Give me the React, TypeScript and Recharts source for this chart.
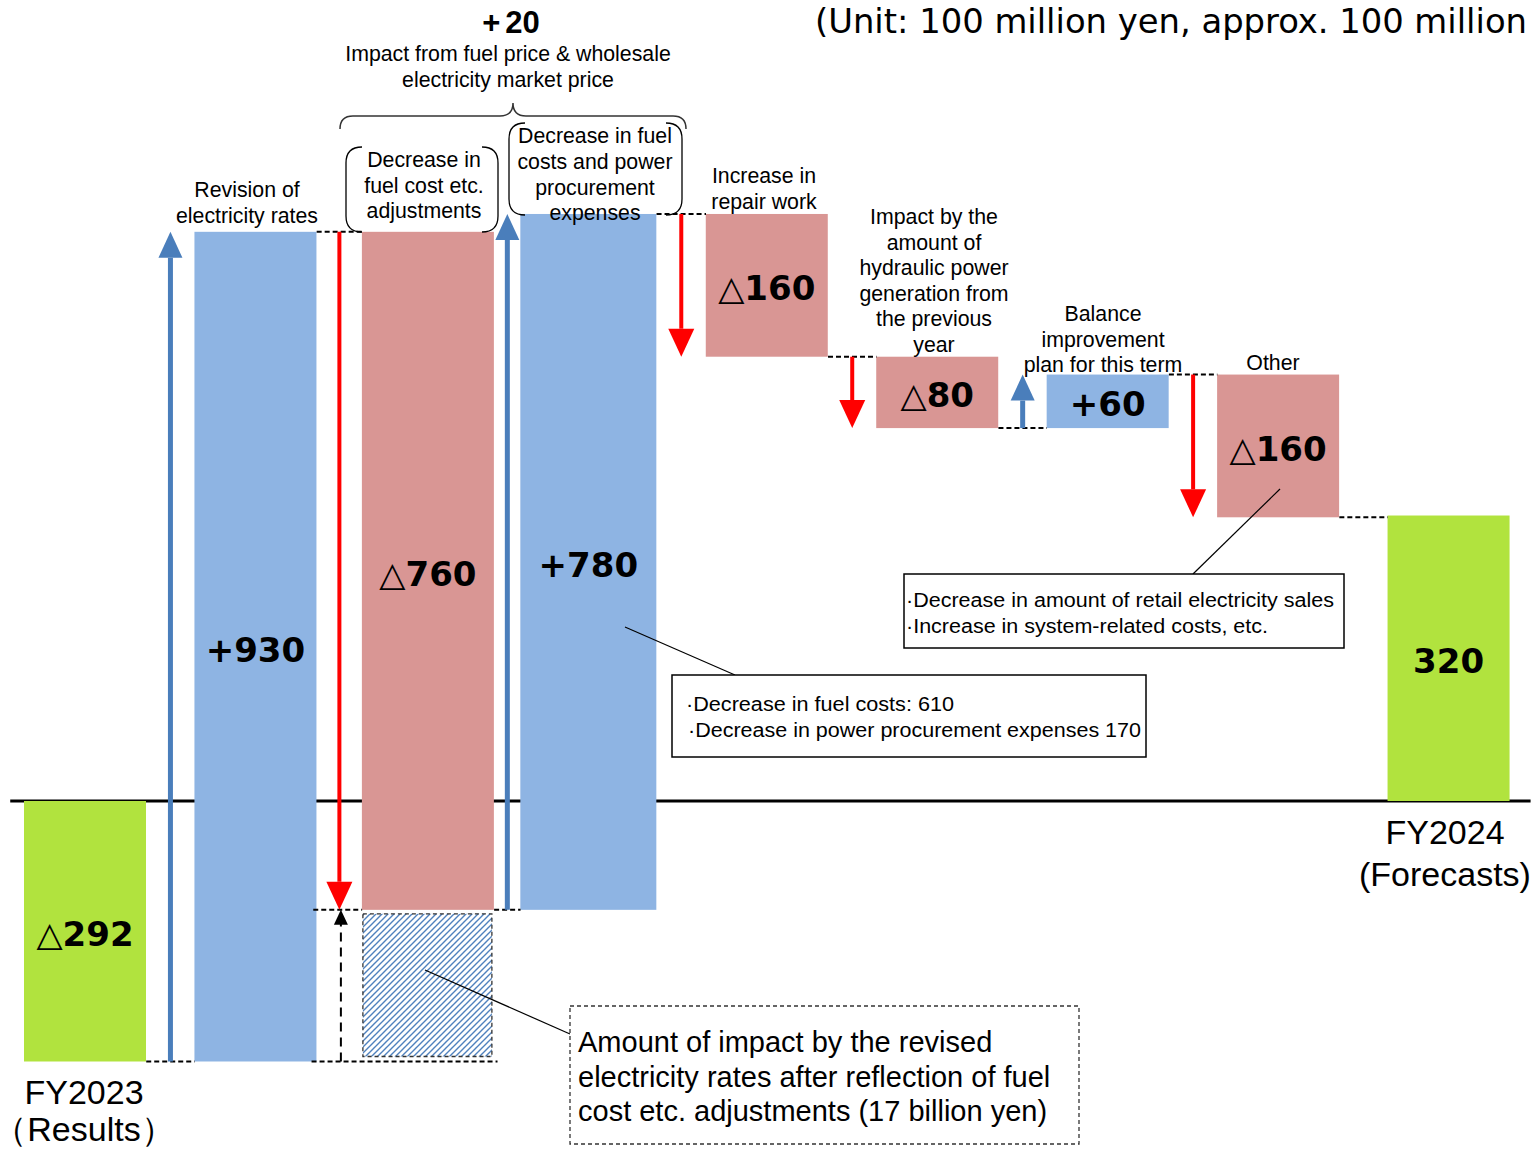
import React from 'react';
import { ComposedChart, Bar, XAxis, YAxis, Cell, LabelList, ReferenceLine } from 'recharts';

// values in 100 million yen
const categories = [
  'FY2023',
  'Revision of electricity rates',
  'Decrease in fuel cost etc. adjustments',
  'Decrease in fuel costs and power procurement expenses',
  'Increase in repair work',
  'Impact by the amount of hydraulic power generation from the previous year',
  'Balance improvement plan for this term',
  'Other',
  'FY2024',
];
const startValue = -292;
const changes = [930, -760, 780, -160, -80, 60, -160];
const endValue = 320;
const barLabels = ['△292', '+930', '△760', '+780', '△160', '△80', '+60', '△160', '320'];
const revisedRateImpact = 170; // 17 billion yen
const fuelPriceImpact = 20;

const categoryLines = [
  ['FY2023', '（Results）'],
  ['Revision of', 'electricity rates'],
  ['Decrease in', 'fuel cost etc.', 'adjustments'],
  ['Decrease in fuel', 'costs and power', 'procurement', 'expenses'],
  ['Increase in', 'repair work'],
  ['Impact by the', 'amount of', 'hydraulic power', 'generation from', 'the previous', 'year'],
  ['Balance', 'improvement', 'plan for this term'],
  ['Other'],
  ['FY2024', '(Forecasts)'],
];
const fuelImpactLines = ['Impact from fuel price & wholesale', 'electricity market price'];
const otherNotes = ['·Decrease in amount of retail electricity sales', '·Increase in system-related costs, etc.'];
const fuelNotes = ['·Decrease in fuel costs: 610', '·Decrease in power procurement expenses 170'];
const hatchNote = ['Amount of impact by the revised', 'electricity rates after reflection of fuel', 'cost etc. adjustments (17 billion yen)'];
const unitText = '(Unit: 100 million yen, approx. 100 million';

const GREEN = '#b1e33e';
const PINK = '#d99694';
const BLUE = '#8eb4e3';
const ARROW_BLUE = '#4a7ebb';
const RED = '#ff0000';
const SANS = '"Liberation Sans", Arial, sans-serif';

const W = 1536;
const H = 1149;
const margin = { top: 7, right: 2, bottom: 9, left: 0 };
const barSize = 122;
const band = (W - margin.left - margin.right) / categories.length;
const half = barSize / 2 / band;
const yDomain = [-380, 890];
// the two fuel bars are drawn a little wider than the rest: [extra px left, extra px right]
const widen: Record<number, [number, number]> = { 2: [3, 7], 3: [15, -1] };

const leftEdge = (i: number) => i + 0.5 - half - (widen[i]?.[0] ?? 0) / band;
const rightEdge = (i: number) => i + 0.5 + half + (widen[i]?.[1] ?? 0) / band;

const levels: number[] = [startValue];
changes.forEach((c) => levels.push(levels[levels.length - 1] + c));

const data = categories.map((name, i) => {
  let lo: number;
  let hi: number;
  if (i === 0) [lo, hi] = [startValue, 0];
  else if (i === categories.length - 1) [lo, hi] = [0, endValue];
  else [lo, hi] = [levels[i - 1], levels[i]];
  return {
    name,
    pos: i + 0.5,
    range: [Math.min(lo, hi), Math.max(lo, hi)],
    hatch: i === 2 ? [startValue, startValue + revisedRateImpact] : null,
    label: barLabels[i],
  };
});

const fills = categories.map((_, i) =>
  i === 0 || i === categories.length - 1 ? GREEN : changes[i - 1] > 0 ? BLUE : PINK
);

const arrowShape = (color: string, sw: number, headW: number, headL: number) => (p: any) => {
  const { x1, y1, x2, y2 } = p;
  const dir = y2 > y1 ? 1 : -1;
  const baseY = y2 - dir * headL;
  return (
    <g>
      <line x1={x1} y1={y1} x2={x2} y2={baseY} stroke={color} strokeWidth={sw} />
      <polygon points={`${x2 - headW / 2},${baseY} ${x2 + headW / 2},${baseY} ${x2},${y2}`} fill={color} />
    </g>
  );
};

const barShape = (p: any) => {
  const { x, y, width, height, fill, index } = p;
  const [l, r] = widen[index] ?? [0, 0];
  return <rect x={x - l} y={y} width={width + l + r} height={height} fill={fill} />;
};

const renderBarLabel = (p: any) => {
  const { x, y, width, height, value, index } = p;
  const [l, r] = widen[index] ?? [0, 0];
  const s = String(value);
  const tri = s.startsWith('△');
  return (
    <text
      x={x - l + (width + l + r) / 2}
      y={y + height / 2 + 15}
      textAnchor="middle"
      fontFamily='"DejaVu Sans", Verdana, sans-serif'
      fontSize={34}
      fill="#000"
    >
      {tri && <tspan fontWeight="normal">△</tspan>}
      <tspan fontWeight="bold">{tri ? s.slice(1) : s}</tspan>
    </text>
  );
};

const hatchShape = (p: any) => {
  const { x, y, width, height } = p;
  if (!height) return <g />;
  const [l, r] = widen[2];
  return (
    <rect
      x={x - l + 1}
      y={y + 4}
      width={width + l + r - 3}
      height={height - 9}
      fill="url(#hatchFill)"
      stroke="#333"
      strokeWidth={1.3}
      strokeDasharray="4 3"
    />
  );
};

const TextLines = ({ x, y, lines, size = 21.3, lh = 25.5, anchor = 'middle', family = SANS, weight = 'normal' }: any) => (
  <text x={x} y={y} fontSize={size} fontFamily={family} fontWeight={weight} textAnchor={anchor} fill="#000">
    {lines.map((l: string, i: number) => (
      <tspan key={i} x={x} y={y + i * lh}>
        {l}
      </tspan>
    ))}
  </text>
);

// anchor of each category caption: [center x, first baseline, font size, line height]
const captionPos: [number, number, number, number][] = [
  [84, 1104, 34, 37],
  [247, 197, 21.3, 25.5],
  [424, 167, 21.3, 25.5],
  [595, 143, 21.3, 25.8],
  [764, 183, 21.3, 25.5],
  [934, 224, 21.3, 25.6],
  [1103, 321, 21.3, 25.5],
  [1273, 370, 21.3, 25.5],
  [1445, 844, 34, 42],
];

const Axes = () => (
  <>
    <XAxis xAxisId="cat" dataKey="name" hide />
    <XAxis xAxisId="hatch" dataKey="name" hide />
    <XAxis
      xAxisId="num"
      dataKey="pos"
      type="number"
      scale="linear"
      domain={[0, categories.length]}
      hide
      allowDataOverflow
    />
    <YAxis hide domain={yDomain} allowDataOverflow />
  </>
);

export default function App() {
  const dash = { stroke: '#000', strokeWidth: 2, strokeDasharray: '5 3' };

  // horizontal connectors between neighbouring bars
  const connectors = categories.slice(0, -1).map((_, i) => {
    const level = i === 0 ? startValue : levels[i];
    return { x1: rightEdge(i), x2: leftEdge(i + 1), y: level };
  });
  const hatchTop = startValue + revisedRateImpact;

  return (
    <div style={{ position: 'absolute', left: 0, top: 0, width: W, height: H, background: '#fff' }}>
      {/* zero line sits behind the bars */}
      <div style={{ position: 'absolute', left: 0, top: 0 }}>
        <ComposedChart width={W} height={H} data={data} margin={margin}>
          {Axes()}
          <ReferenceLine
            xAxisId="num"
            segment={[{ x: 0.06, y: 0 }, { x: 8.98, y: 0 }]}
            stroke="#000"
            strokeWidth={3}
            ifOverflow="visible"
          />
        </ComposedChart>
      </div>

      <div style={{ position: 'absolute', left: 0, top: 0 }}>
        <ComposedChart width={W} height={H} data={data} margin={margin} barCategoryGap={0}>
          {Axes()}

          <Bar xAxisId="cat" dataKey="range" barSize={barSize} isAnimationActive={false} shape={barShape}>
            {data.map((d, i) => (
              <Cell key={d.name} fill={fills[i]} />
            ))}
            <LabelList dataKey="label" content={renderBarLabel} />
          </Bar>
          <Bar xAxisId="hatch" dataKey="hatch" barSize={barSize} isAnimationActive={false} shape={hatchShape} />

          {connectors.map((c, i) => (
            <ReferenceLine
              key={`c${i}`}
              xAxisId="num"
              segment={[{ x: c.x1, y: c.y }, { x: c.x2, y: c.y }]}
              {...dash}
              ifOverflow="visible"
            />
          ))}
          <ReferenceLine
            xAxisId="num"
            segment={[{ x: rightEdge(1) - 0.03, y: startValue }, { x: rightEdge(2) + 0.02, y: startValue }]}
            {...dash}
            ifOverflow="visible"
          />
          <ReferenceLine
            xAxisId="num"
            segment={[{ x: rightEdge(1) - 0.02, y: hatchTop }, { x: leftEdge(2), y: hatchTop }]}
            {...dash}
            ifOverflow="visible"
          />
          <ReferenceLine
            xAxisId="num"
            segment={[{ x: 2, y: startValue }, { x: 2, y: hatchTop }]}
            ifOverflow="visible"
            shape={(p: any) => (
              <g>
                <line x1={p.x1} y1={p.y1} x2={p.x2} y2={p.y2 + 14} stroke="#000" strokeWidth={2} strokeDasharray="9 6" />
                <polygon points={`${p.x2 - 7},${p.y2 + 15} ${p.x2 + 7},${p.y2 + 15} ${p.x2},${p.y2}`} fill="#000" />
              </g>
            )}
          />

          {changes.map((c, k) => {
            const i = k + 1;
            const up = c > 0;
            // arrow runs down the gap just left of its bar
            const ax = (rightEdge(i - 1) + leftEdge(i)) / 2;
            return (
              <ReferenceLine
                key={`a${i}`}
                xAxisId="num"
                segment={[{ x: ax, y: levels[i - 1] }, { x: ax, y: levels[i] }]}
                ifOverflow="visible"
                shape={up ? arrowShape(ARROW_BLUE, 5, 24, 26) : arrowShape(RED, 4, 26, 28)}
              />
            );
          })}
        </ComposedChart>
      </div>

      <svg width={W} height={H} style={{ position: 'absolute', left: 0, top: 0, pointerEvents: 'none' }}>
        <defs>
          <pattern id="hatchFill" patternUnits="userSpaceOnUse" width={6} height={6}>
            <rect width={6} height={6} fill="#fff" />
            <path d="M0,6 L6,0 M-1.5,1.5 L1.5,-1.5 M4.5,7.5 L7.5,4.5" stroke="#4f81bd" strokeWidth={1.4} />
          </pattern>
        </defs>

        <text x={815} y={33} fontSize={34} fontFamily='"DejaVu Sans Condensed", "DejaVu Sans", sans-serif' textLength={712} lengthAdjust="spacingAndGlyphs">
          {unitText}
        </text>

        <text x={511} y={33} textAnchor="middle" fontSize={31} fontWeight="bold" fontFamily={SANS}>
          <tspan>+</tspan>
          <tspan dx={5}>{fuelPriceImpact}</tspan>
        </text>
        <TextLines x={508} y={61} lines={fuelImpactLines} lh={26} />
        <path
          d="M340,129 Q340,116 353,116 L500,116 Q513,116 513,103 Q513,116 526,116 L673,116 Q686,116 686,129"
          fill="none"
          stroke="#333"
          strokeWidth={1.5}
        />
        <path d="M362,147 Q346,147 346,163 L346,216 Q346,232 362,232 M482,147 Q498,147 498,163 L498,216 Q498,232 482,232" fill="none" stroke="#000" strokeWidth={1.3} />
        <path d="M525,123 Q509,123 509,139 L509,199 Q509,215 525,215 M666,123 Q682,123 682,139 L682,199 Q682,215 666,215" fill="none" stroke="#000" strokeWidth={1.3} />

        {categoryLines.map((lines, i) => {
          const [x, y, size, lh] = captionPos[i];
          return <TextLines key={i} x={x} y={y} lines={lines} size={size} lh={lh} />;
        })}

        <line x1={1280} y1={489} x2={1193} y2={574} stroke="#000" strokeWidth={1.2} />
        <rect x={904} y={574} width={440} height={74} fill="#fff" stroke="#000" strokeWidth={1.5} />
        <text x={906} y={607} fontSize={20} fontFamily={SANS} textLength={428} lengthAdjust="spacingAndGlyphs">{otherNotes[0]}</text>
        <text x={906} y={633} fontSize={20} fontFamily={SANS} textLength={362} lengthAdjust="spacingAndGlyphs">{otherNotes[1]}</text>

        <line x1={625} y1={627} x2={735} y2={675} stroke="#000" strokeWidth={1.2} />
        <rect x={672} y={675} width={474} height={82} fill="#fff" stroke="#000" strokeWidth={1.5} />
        <text x={686} y={711} fontSize={20} fontFamily={SANS} textLength={268} lengthAdjust="spacingAndGlyphs">{fuelNotes[0]}</text>
        <text x={688} y={737} fontSize={20} fontFamily={SANS} textLength={453} lengthAdjust="spacingAndGlyphs">{fuelNotes[1]}</text>

        <line x1={425} y1={970} x2={570} y2={1034} stroke="#000" strokeWidth={1.2} />
        <rect x={570} y={1006} width={509} height={138} fill="#fff" stroke="#333" strokeWidth={1.3} strokeDasharray="4 3" />
        <TextLines x={578} y={1052} lines={hatchNote} size={29} lh={34.5} anchor="start" />
      </svg>
    </div>
  );
}
